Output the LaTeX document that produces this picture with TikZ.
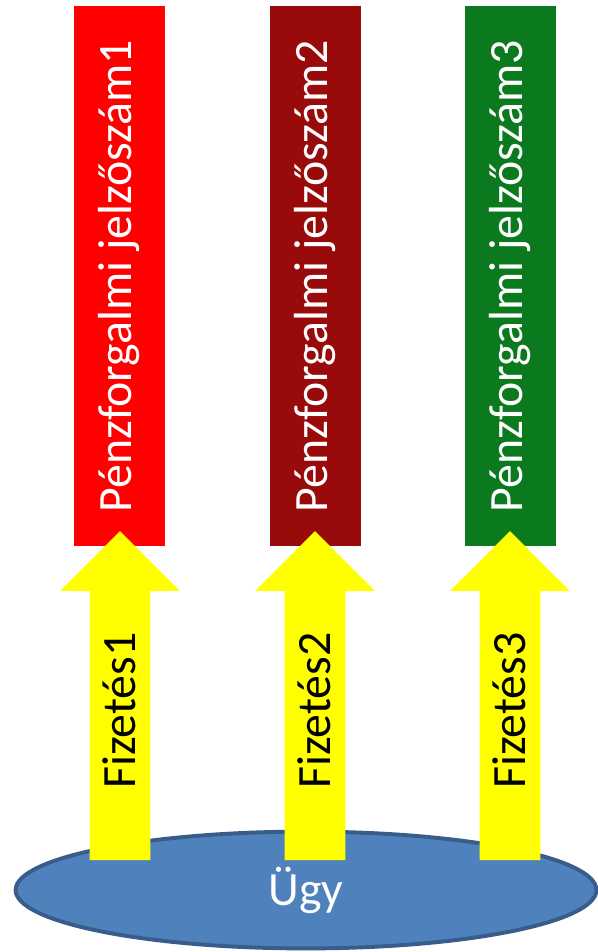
\documentclass[tikz,border=0pt]{standalone}
\usepackage{fontspec}
\setmainfont{Carlito}
\usetikzlibrary{shapes.geometric,shapes.arrows}

\definecolor{codered}{HTML}{FF0000}
\definecolor{codedarkred}{HTML}{990A0A}
\definecolor{codegreen}{HTML}{0B7A1F}
\definecolor{payyellow}{HTML}{FFFF00}
\definecolor{casefill}{HTML}{4F81BD}
\definecolor{caseline}{HTML}{385D8A}

\tikzset{
  bigtext/.style={font=\fontsize{34}{40}\selectfont},
  codebox/.style={draw=none, rectangle, rotate=90, inner sep=0pt, outer sep=0pt,
    minimum width=13.5cm, minimum height=2.275cm, text=white, bigtext},
  payarrow/.style={single arrow, fill=payyellow, draw=none, rotate=90, inner sep=0pt, outer sep=0pt,
    text height=1.125cm, text depth=0.375cm,
    minimum height=8.225cm, single arrow head extend=0.7375cm,
    single arrow tip angle=90, bigtext, anchor=tail}
}

\begin{document}
\begin{tikzpicture}
  \useasboundingbox (0,0) rectangle (14.95,-23.8);

  % Case
  \node[draw=caseline, line width=2.8pt, fill=casefill, ellipse, inner sep=0pt,
    minimum width=14.52cm, minimum height=2.92cm, text=white, bigtext] (ugy) at (7.65,-22.25) {Ügy};

  % Payment account numbers
  \node[codebox, fill=codered] (code1) at (2.9875,-6.9) {Pénzforgalmi jelzőszám1};
  \node[codebox, fill=codedarkred] (code2) at (7.875,-6.9) {Pénzforgalmi jelzőszám2};
  \node[codebox, fill=codegreen] (code3) at (12.75,-6.9) {Pénzforgalmi jelzőszám3};

  % Payments
  \node[payarrow] (pay1) at (3,-21.5) {Fizetés1};
  \node[payarrow] (pay2) at (7.875,-21.5) {Fizetés2};
  \node[payarrow] (pay3) at (12.75,-21.5) {Fizetés3};
\end{tikzpicture}
\end{document}
